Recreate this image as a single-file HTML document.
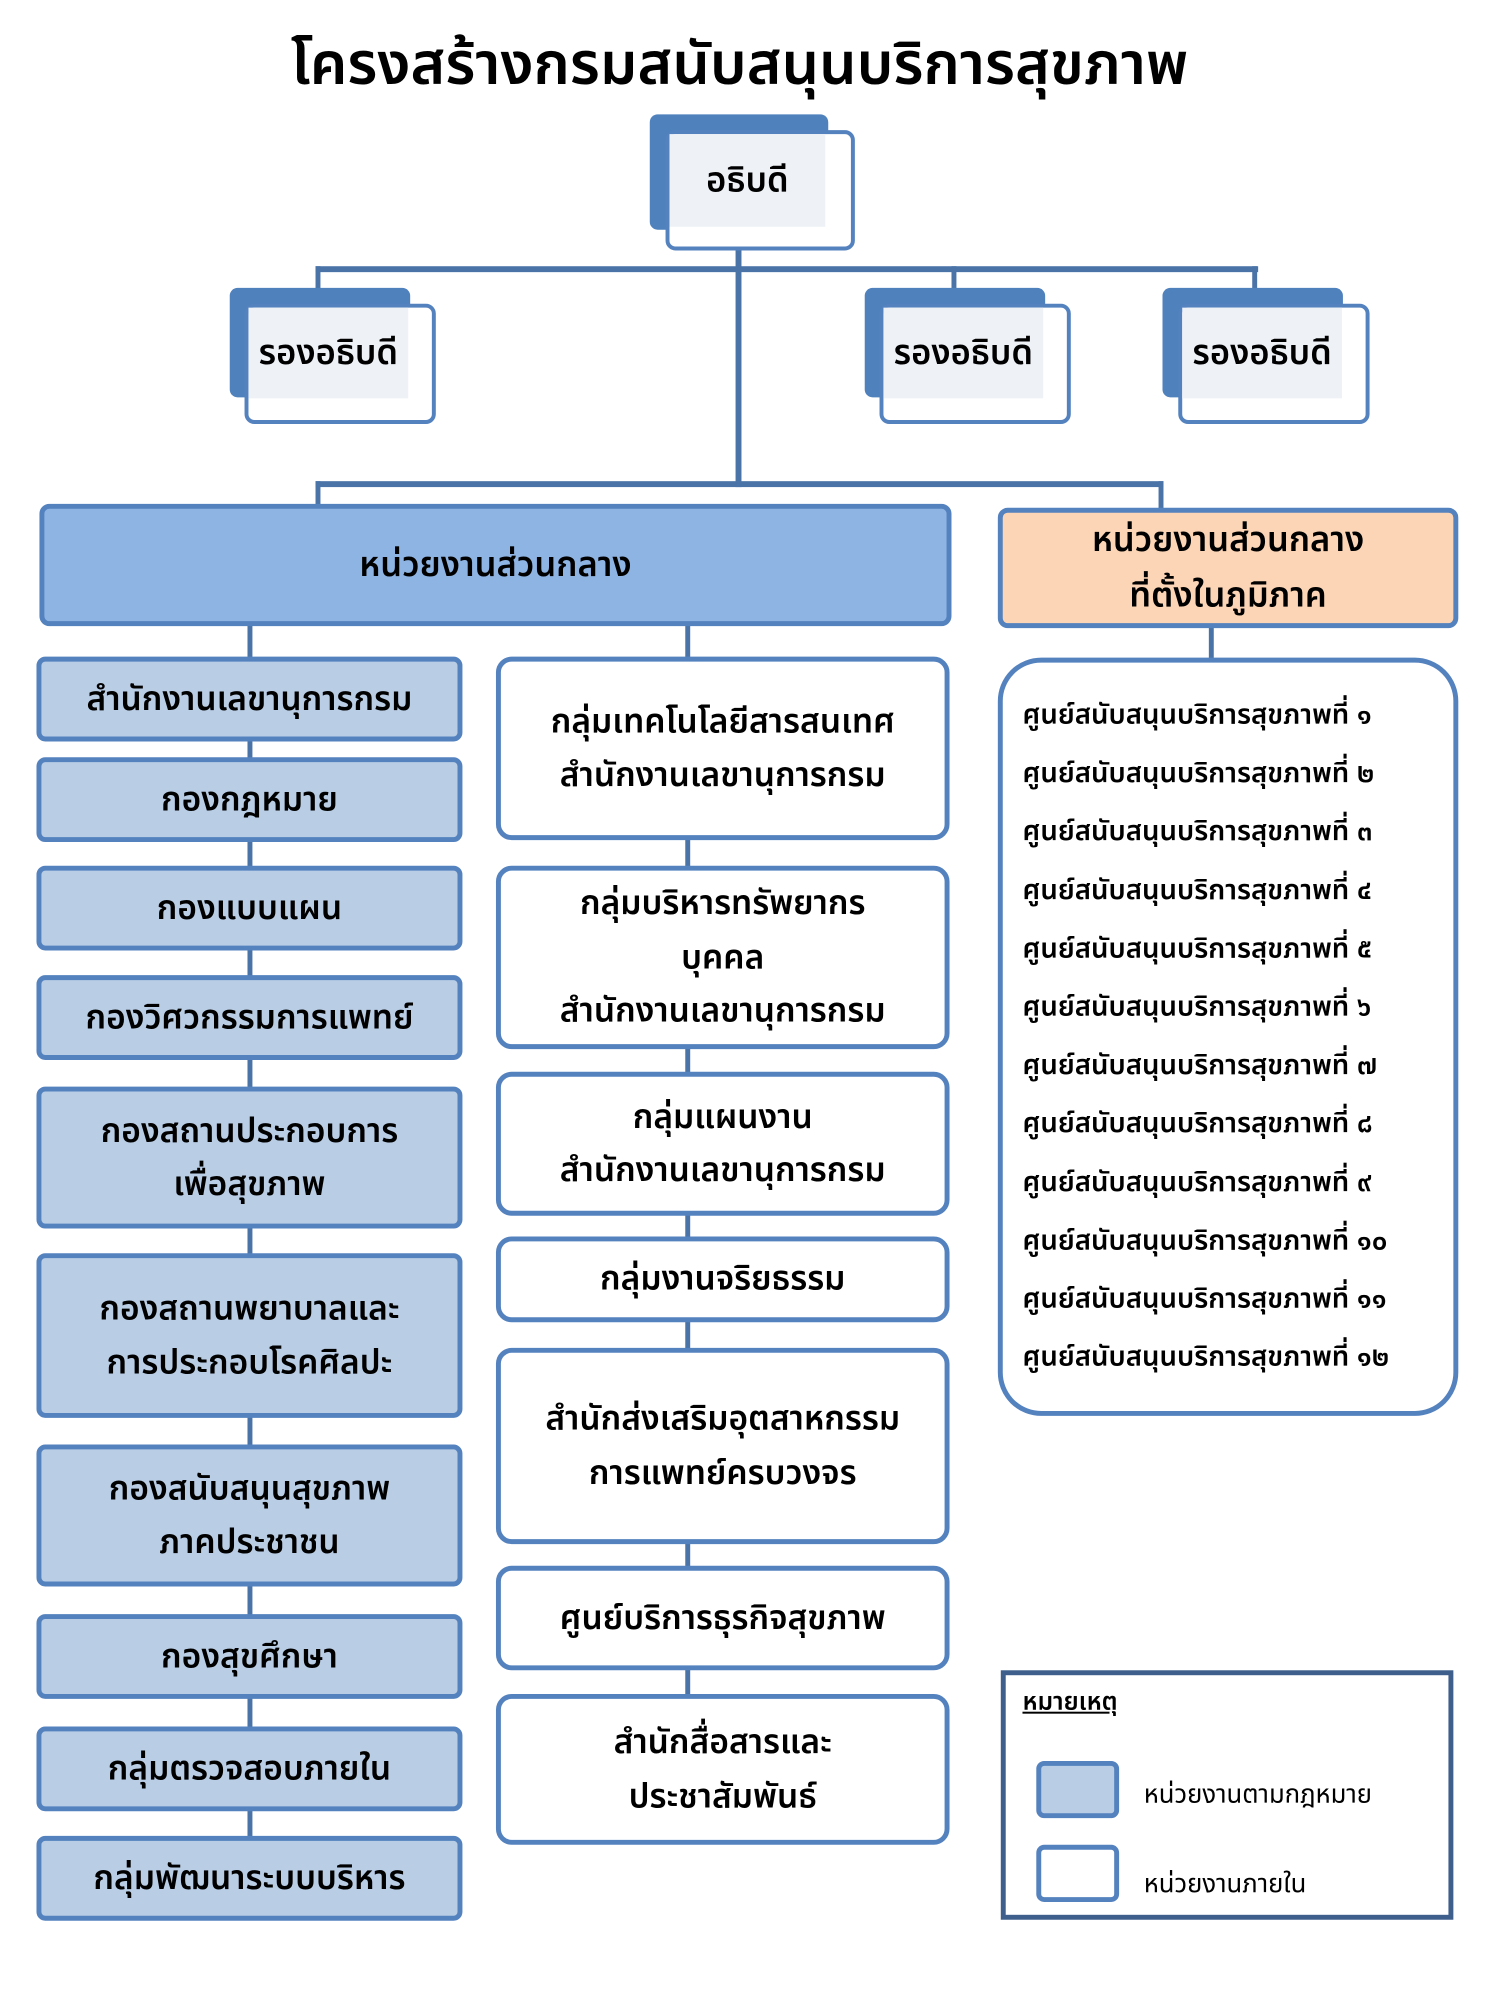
<!DOCTYPE html>
<html><head><meta charset="utf-8"><style>
html,body{margin:0;padding:0;background:#fff;}
body{width:1500px;height:2000px;position:relative;overflow:hidden;font-family:"Liberation Sans","Noto Sans Thai","Loma","Garuda",sans-serif;color:#000;}
#w{position:absolute;left:0;top:0;width:1500px;height:2000px;transform:scale(0.986);transform-origin:0 0;}
.a{position:absolute;box-sizing:border-box;}
.c{display:flex;align-items:center;justify-content:center;text-align:center;line-height:1.6;}
.ln{position:absolute;background:#4a74a8;}
.lb{background:#b9cde5;border:5px solid #5482bf;border-radius:9px;font-size:34px;font-weight:600;}
.wb{background:#fff;border:5px solid #5482bf;border-radius:16px;font-size:34px;font-weight:600;}
.back{background:#4f81bd;border-radius:8px;}
.front{background:#fff;border:4px solid #5482bf;border-radius:10px;}
.inner{background:#eef2f7;font-weight:600;}
</style></head><body><div id="w">
<div class="a c" style="left:0;top:20px;width:1500px;height:90px;font-size:60px;font-weight:600;">โครงสร้างกรมสนับสนุนบริการสุขภาพ</div>

<div class="ln" style="left:746px;top:253px;width:6px;height:241px;"></div>
<div class="ln" style="left:320px;top:270px;width:956px;height:6px;"></div>
<div class="ln" style="left:320px;top:270px;width:5px;height:24px;"></div>
<div class="ln" style="left:965px;top:270px;width:5px;height:24px;"></div>
<div class="ln" style="left:1270px;top:270px;width:5px;height:24px;"></div>
<div class="ln" style="left:320px;top:488px;width:860px;height:6px;"></div>
<div class="ln" style="left:320px;top:488px;width:5px;height:26px;"></div>
<div class="ln" style="left:1175px;top:488px;width:5px;height:28px;"></div>
<div class="ln" style="left:251px;top:630px;width:5px;height:1240px;"></div>
<div class="ln" style="left:695px;top:630px;width:5px;height:1100px;"></div>
<div class="ln" style="left:1226px;top:634px;width:5px;height:36px;"></div>

<div class="a back" style="left:659px;top:116px;width:181px;height:117px;"></div>
<div class="a front" style="left:675px;top:132px;width:192px;height:122px;"></div>
<div class="a c inner" style="left:679px;top:136px;width:158px;height:94px;font-size:35px;">อธิบดี</div>

<div class="a back" style="left:233px;top:292px;width:183px;height:111px;"></div>
<div class="a front" style="left:248px;top:308px;width:194px;height:122px;"></div>
<div class="a c inner" style="left:252px;top:312px;width:162px;height:92px;font-size:35px;">รองอธิบดี</div>

<div class="a back" style="left:877px;top:292px;width:183px;height:111px;"></div>
<div class="a front" style="left:892px;top:308px;width:194px;height:122px;"></div>
<div class="a c inner" style="left:896px;top:312px;width:162px;height:92px;font-size:35px;">รองอธิบดี</div>

<div class="a back" style="left:1179px;top:292px;width:183px;height:111px;"></div>
<div class="a front" style="left:1195px;top:308px;width:194px;height:122px;"></div>
<div class="a c inner" style="left:1199px;top:312px;width:162px;height:92px;font-size:35px;">รองอธิบดี</div>

<div class="a c" style="left:40px;top:511px;width:925px;height:124px;background:#8eb4e3;border:5px solid #5482bf;border-radius:10px;font-size:35px;font-weight:600;">หน่วยงานส่วนกลาง</div>
<div class="a c" style="left:1012px;top:515px;width:467px;height:122px;background:#fbd5b5;border:5px solid #5482bf;border-radius:10px;font-size:35px;font-weight:600;line-height:1.6;">หน่วยงานส่วนกลาง<br>ที่ตั้งในภูมิภาค</div>

<div class="a c lb" style="left:37px;top:666px;width:432px;height:86px;">สำนักงานเลขานุการกรม</div>
<div class="a c lb" style="left:37px;top:768px;width:432px;height:86px;">กองกฎหมาย</div>
<div class="a c lb" style="left:37px;top:878px;width:432px;height:86px;">กองแบบแผน</div>
<div class="a c lb" style="left:37px;top:989px;width:432px;height:86px;">กองวิศวกรรมการแพทย์</div>
<div class="a c lb" style="left:37px;top:1102px;width:432px;height:144px;">กองสถานประกอบการ<br>เพื่อสุขภาพ</div>
<div class="a c lb" style="left:37px;top:1271px;width:432px;height:167px;">กองสถานพยาบาลและ<br>การประกอบโรคศิลปะ</div>
<div class="a c lb" style="left:37px;top:1465px;width:432px;height:144px;">กองสนับสนุนสุขภาพ<br>ภาคประชาชน</div>
<div class="a c lb" style="left:37px;top:1637px;width:432px;height:86px;">กองสุขศึกษา</div>
<div class="a c lb" style="left:37px;top:1751px;width:432px;height:86px;">กลุ่มตรวจสอบภายใน</div>
<div class="a c lb" style="left:37px;top:1862px;width:432px;height:86px;">กลุ่มพัฒนาระบบบริหาร</div>

<div class="a c wb" style="left:503px;top:666px;width:460px;height:186px;">กลุ่มเทคโนโลยีสารสนเทศ<br>สำนักงานเลขานุการกรม</div>
<div class="a c wb" style="left:503px;top:878px;width:460px;height:186px;">กลุ่มบริหารทรัพยากร<br>บุคคล<br>สำนักงานเลขานุการกรม</div>
<div class="a c wb" style="left:503px;top:1087px;width:460px;height:146px;">กลุ่มแผนงาน<br>สำนักงานเลขานุการกรม</div>
<div class="a c wb" style="left:503px;top:1254px;width:460px;height:87px;">กลุ่มงานจริยธรรม</div>
<div class="a c wb" style="left:503px;top:1367px;width:460px;height:199px;">สำนักส่งเสริมอุตสาหกรรม<br>การแพทย์ครบวงจร</div>
<div class="a c wb" style="left:503px;top:1588px;width:460px;height:106px;">ศูนย์บริการธุรกิจสุขภาพ</div>
<div class="a c wb" style="left:503px;top:1718px;width:460px;height:153px;">สำนักสื่อสารและ<br>ประชาสัมพันธ์</div>

<div class="a" style="left:1012px;top:667px;width:467px;height:769px;border:5px solid #5482bf;border-radius:44px;background:#fff;font-size:28px;font-weight:600;">
<div style="position:absolute;left:20px;top:23px;line-height:59.2px;white-space:nowrap;">
ศูนย์สนับสนุนบริการสุขภาพที่ ๑<br>ศูนย์สนับสนุนบริการสุขภาพที่ ๒<br>ศูนย์สนับสนุนบริการสุขภาพที่ ๓<br>ศูนย์สนับสนุนบริการสุขภาพที่ ๔<br>ศูนย์สนับสนุนบริการสุขภาพที่ ๕<br>ศูนย์สนับสนุนบริการสุขภาพที่ ๖<br>ศูนย์สนับสนุนบริการสุขภาพที่ ๗<br>ศูนย์สนับสนุนบริการสุขภาพที่ ๘<br>ศูนย์สนับสนุนบริการสุขภาพที่ ๙<br>ศูนย์สนับสนุนบริการสุขภาพที่ ๑๐<br>ศูนย์สนับสนุนบริการสุขภาพที่ ๑๑<br>ศูนย์สนับสนุนบริการสุขภาพที่ ๑๒
</div></div>

<div class="a" style="left:1015px;top:1694px;width:459px;height:253px;border:5px solid #3e5f8c;background:#fff;"></div>
<div class="a" style="left:1037px;top:1708px;font-size:25px;font-weight:600;text-decoration:underline;">หมายเหตุ</div>
<div class="a" style="left:1051px;top:1786px;width:84px;height:58px;background:#b9cde5;border:5px solid #5482bf;border-radius:8px;"></div>
<div class="a" style="left:1051px;top:1871px;width:84px;height:58px;background:#fff;border:5px solid #5482bf;border-radius:8px;"></div>
<div class="a" style="left:1160px;top:1800px;font-size:26px;">หน่วยงานตามกฎหมาย</div>
<div class="a" style="left:1160px;top:1891px;font-size:26px;">หน่วยงานภายใน</div>
</div></body></html>
